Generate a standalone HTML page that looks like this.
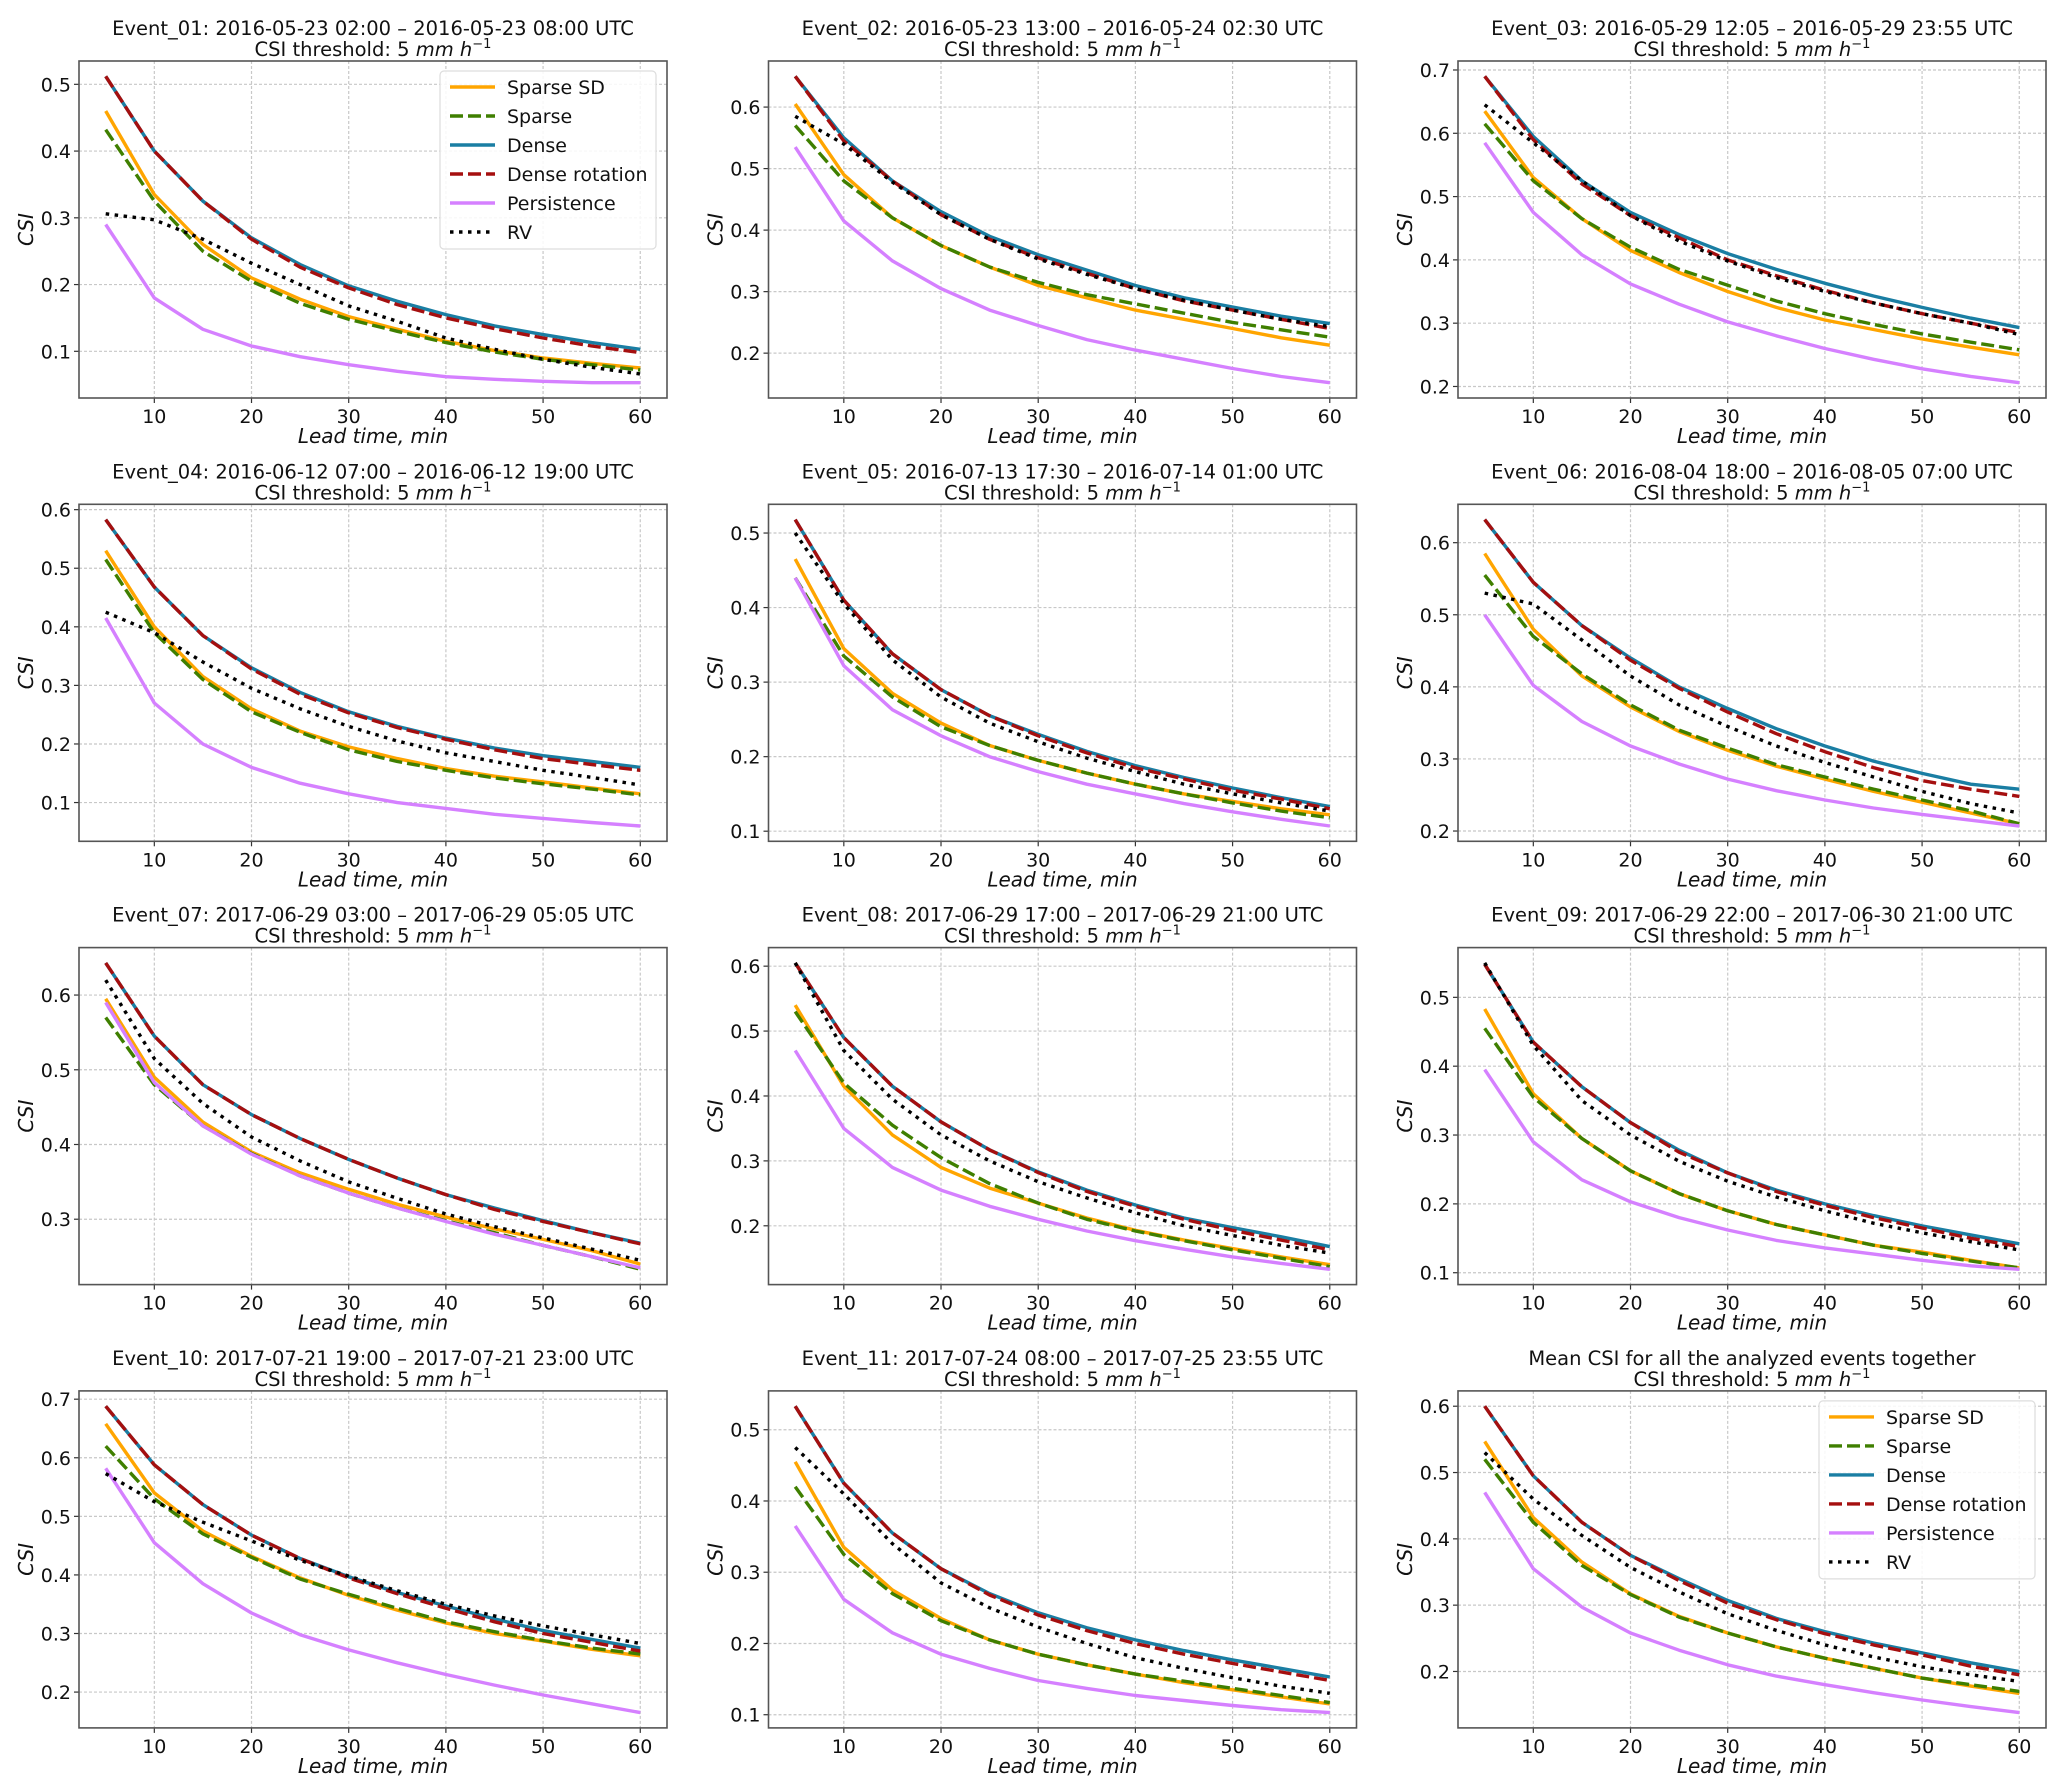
<!DOCTYPE html>
<html><head><meta charset="utf-8">
<style>
html,body{margin:0;padding:0;background:#fff;}
svg{display:block;font-family:"DejaVu Sans","Liberation Sans",sans-serif;}
</style></head>
<body>
<svg id="fig" width="2067" height="1792" viewBox="0 0 2067 1792" xmlns="http://www.w3.org/2000/svg"></svg>
<script>
const leadTimes = [5,10,15,20,25,30,35,40,45,50,55,60];
const seriesNames = ["Sparse SD","Sparse","Dense","Dense rotation","Persistence","RV"];
const panelTitles = [
"Event_01: 2016-05-23 02:00 – 2016-05-23 08:00 UTC",
"Event_02: 2016-05-23 13:00 – 2016-05-24 02:30 UTC",
"Event_03: 2016-05-29 12:05 – 2016-05-29 23:55 UTC",
"Event_04: 2016-06-12 07:00 – 2016-06-12 19:00 UTC",
"Event_05: 2016-07-13 17:30 – 2016-07-14 01:00 UTC",
"Event_06: 2016-08-04 18:00 – 2016-08-05 07:00 UTC",
"Event_07: 2017-06-29 03:00 – 2017-06-29 05:05 UTC",
"Event_08: 2017-06-29 17:00 – 2017-06-29 21:00 UTC",
"Event_09: 2017-06-29 22:00 – 2017-06-30 21:00 UTC",
"Event_10: 2017-07-21 19:00 – 2017-07-21 23:00 UTC",
"Event_11: 2017-07-24 08:00 – 2017-07-25 23:55 UTC",
"Mean CSI for all the analyzed events together"];
const xTicks = [10,20,30,40,50,60];

const sparseSD = [
[.46,.335,.26,.21,.178,.152,.133,.115,.101,.09,.082,.075],
[.605,.49,.42,.375,.34,.31,.29,.27,.255,.24,.225,.213],
[.635,.53,.465,.415,.38,.35,.325,.305,.29,.275,.262,.25],
[.53,.4,.315,.26,.222,.195,.175,.158,.145,.135,.125,.115],
[.465,.345,.285,.245,.215,.195,.178,.163,.15,.14,.13,.122],
[.585,.48,.415,.372,.338,.312,.29,.272,.255,.24,.225,.21],
[.595,.49,.43,.39,.362,.34,.32,.303,.287,.273,.258,.24],
[.54,.415,.34,.29,.258,.235,.212,.193,.178,.165,.152,.14],
[.483,.36,.295,.248,.215,.19,.17,.155,.14,.13,.118,.107],
[.658,.54,.475,.432,.395,.365,.34,.318,.3,.287,.273,.262],
[.455,.335,.275,.235,.205,.185,.17,.157,.145,.135,.125,.115],
[.547,.432,.365,.317,.283,.258,.237,.22,.205,.19,.178,.167]];
const sparse = [
[.432,.325,.25,.205,.172,.148,.13,.113,.099,.088,.08,.072],
[.57,.48,.42,.375,.34,.315,.295,.28,.265,.25,.238,.226],
[.615,.525,.465,.42,.385,.36,.335,.315,.298,.283,.27,.258],
[.515,.39,.31,.255,.22,.19,.17,.155,.142,.132,.123,.113],
[.44,.335,.28,.24,.215,.195,.178,.163,.15,.138,.127,.118],
[.555,.47,.418,.375,.34,.315,.292,.275,.258,.243,.228,.21],
[.57,.48,.425,.388,.358,.335,.315,.298,.282,.265,.25,.233],
[.53,.42,.355,.305,.265,.235,.21,.192,.177,.163,.15,.137],
[.455,.355,.295,.248,.215,.19,.17,.155,.14,.128,.117,.107],
[.62,.53,.47,.43,.393,.367,.343,.32,.303,.288,.275,.265],
[.42,.325,.27,.232,.205,.185,.17,.157,.147,.137,.127,.117],
[.52,.425,.36,.316,.282,.258,.237,.22,.205,.19,.18,.17]];
const dense = [
[.512,.40,.325,.27,.23,.198,.175,.155,.138,.125,.113,.103],
[.65,.55,.48,.43,.39,.36,.335,.31,.29,.275,.26,.248],
[.69,.595,.525,.475,.44,.41,.385,.363,.343,.325,.308,.293],
[.583,.468,.385,.33,.288,.255,.23,.21,.193,.18,.17,.16],
[.518,.41,.338,.29,.255,.23,.207,.188,.172,.158,.145,.133],
[.632,.545,.485,.44,.4,.37,.342,.318,.297,.28,.265,.258],
[.643,.545,.48,.44,.408,.38,.355,.333,.315,.298,.282,.268],
[.605,.49,.415,.36,.317,.283,.255,.232,.212,.197,.183,.168],
[.548,.435,.37,.318,.278,.245,.22,.2,.183,.168,.155,.142],
[.688,.588,.52,.468,.428,.397,.37,.347,.325,.305,.29,.275],
[.533,.425,.355,.305,.27,.243,.222,.205,.19,.177,.165,.153],
[.6,.495,.425,.375,.34,.307,.28,.26,.243,.228,.213,.2]];
const denseRot = [
[.512,.40,.325,.268,.226,.195,.17,.15,.134,.12,.108,.098],
[.65,.545,.48,.425,.385,.355,.33,.305,.285,.27,.255,.24],
[.69,.59,.52,.47,.435,.4,.375,.352,.332,.315,.3,.285],
[.583,.468,.385,.328,.285,.253,.228,.208,.19,.175,.165,.155],
[.518,.41,.338,.29,.255,.228,.205,.185,.17,.155,.143,.13],
[.632,.545,.485,.437,.398,.365,.335,.31,.288,.27,.258,.248],
[.643,.545,.48,.44,.408,.38,.355,.333,.313,.297,.282,.267],
[.605,.49,.415,.36,.317,.282,.253,.23,.21,.193,.178,.163],
[.548,.435,.37,.318,.275,.245,.218,.198,.18,.165,.15,.138],
[.688,.588,.52,.468,.428,.395,.368,.343,.32,.3,.285,.27],
[.533,.425,.355,.305,.268,.24,.218,.2,.185,.172,.16,.148],
[.6,.495,.425,.375,.337,.303,.278,.257,.24,.225,.208,.195]];
const persistence = [
[.29,.18,.133,.108,.092,.08,.07,.062,.058,.055,.053,.053],
[.535,.415,.35,.305,.27,.245,.222,.205,.19,.175,.162,.152],
[.585,.475,.408,.362,.33,.302,.28,.26,.243,.228,.216,.206],
[.415,.27,.2,.16,.133,.115,.1,.09,.08,.073,.066,.06],
[.44,.322,.263,.228,.2,.18,.163,.15,.137,.126,.116,.107],
[.5,.402,.352,.318,.293,.272,.256,.243,.232,.223,.215,.207],
[.59,.483,.425,.387,.358,.335,.315,.297,.28,.265,.25,.235],
[.47,.35,.29,.255,.23,.21,.192,.177,.164,.152,.142,.133],
[.395,.29,.235,.203,.18,.162,.147,.136,.127,.118,.11,.105],
[.582,.455,.385,.335,.298,.272,.25,.23,.212,.195,.18,.165],
[.365,.262,.215,.185,.165,.148,.137,.127,.12,.113,.107,.103],
[.47,.355,.297,.258,.232,.21,.193,.18,.168,.157,.147,.138]];
const rv = [
[.306,.297,.268,.232,.2,.168,.145,.12,.103,.088,.076,.066],
[.585,.54,.478,.425,.385,.353,.328,.305,.286,.27,.255,.243],
[.645,.585,.525,.47,.43,.398,.372,.35,.332,.315,.3,.282],
[.425,.39,.34,.295,.26,.23,.205,.185,.17,.155,.143,.13],
[.5,.405,.33,.28,.245,.22,.198,.18,.163,.15,.138,.127],
[.53,.515,.465,.415,.375,.345,.318,.295,.275,.255,.238,.225],
[.62,.515,.455,.41,.378,.35,.328,.307,.29,.275,.26,.245],
[.605,.47,.395,.34,.3,.268,.243,.22,.2,.185,.17,.158],
[.55,.43,.35,.3,.262,.233,.21,.19,.172,.158,.145,.133],
[.573,.525,.49,.458,.425,.398,.373,.35,.33,.313,.298,.283],
[.475,.41,.34,.285,.25,.223,.2,.18,.165,.152,.14,.13],
[.53,.46,.405,.357,.32,.287,.262,.24,.222,.207,.195,.185]];

const styles = [
 {c:"#FFA500", d:null},
 {c:"#3f7f00", d:"13,5"},
 {c:"#1a7ea3", d:null},
 {c:"#a50f0f", d:"13,5"},
 {c:"#d580ff", d:null},
 {c:"#000000", d:"3.5,5.5"}];
const NS="http://www.w3.org/2000/svg";
const fig=document.getElementById('fig');
function mk(tag,attrs,parent){const e=document.createElementNS(NS,tag);for(const k in attrs)e.setAttribute(k,attrs[k]);(parent||fig).appendChild(e);return e;}

const AW=588, AH=337;
for(let p=0;p<12;p++){
  const col=p%3,row=Math.floor(p/3);
  const L=79+col*689.5, T=61+row*443.3;
  const g=mk('g',{});
  
  
  const all=[sparseSD[p],sparse[p],dense[p],denseRot[p],persistence[p],rv[p]];
  let mn=Infinity,mx=-Infinity;
  all.forEach(s=>s.forEach(v=>{mn=Math.min(mn,v);mx=Math.max(mx,v);}));
  const pad=(mx-mn)*0.05, y0=mn-pad, y1=mx+pad;
  const xmin=2.25,xmax=62.75;
  const X=v=>L+(v-xmin)/(xmax-xmin)*AW;
  const Y=v=>T+AH-(v-y0)/(y1-y0)*AH;
  const yTicks=[];
  for(let t=Math.ceil(y0*10-1e-9);t<=Math.floor(y1*10+1e-9);t++)yTicks.push(t/10);
  xTicks.forEach(t=>{
    const ln=mk('line',{x1:X(t),x2:X(t),y1:T,y2:T+AH,stroke:"#c8c8c8","stroke-width":1.2,"stroke-dasharray":"3,2"},g);
    
    
    const tk=mk('line',{x1:X(t),x2:X(t),y1:T+AH,y2:T+AH+5,stroke:"#333","stroke-width":1.2},g);
    
    
    const tx=mk('text',{x:X(t),y:T+AH+25,"font-size":19,"text-anchor":"middle",fill:"#111"},g);
    tx.textContent=t;
    
    
  });
  yTicks.forEach(t=>{
    const ln=mk('line',{x1:L,x2:L+AW,y1:Y(t),y2:Y(t),stroke:"#c8c8c8","stroke-width":1.2,"stroke-dasharray":"3,2"},g);
    
    
    const tk=mk('line',{x1:L-5,x2:L,y1:Y(t),y2:Y(t),stroke:"#333","stroke-width":1.2},g);
    
    
    const tx=mk('text',{x:L-8,y:Y(t)+7,"font-size":19,"text-anchor":"end",fill:"#111"},g);
    tx.textContent=t.toFixed(1);
    
    
  });
  all.forEach((s,i)=>{
    const pts=s.map((v,j)=>X(leadTimes[j]).toFixed(1)+","+Y(v).toFixed(1)).join(" ");
    const a={points:pts,fill:"none",stroke:styles[i].c,"stroke-width":3.4,"stroke-linejoin":"round"};
    if(styles[i].d)a["stroke-dasharray"]=styles[i].d;
    const pl=mk('polyline',a,g);
    
    
  });
  const fr=mk('rect',{x:L,y:T,width:AW,height:AH,fill:"none",stroke:"#555","stroke-width":1.6},g);
  
  
  const cx=L+AW/2;
  const t1=mk('text',{x:cx,y:T-26,"font-size":19.5,"text-anchor":"middle",fill:"#111"},g);
  t1.textContent=panelTitles[p];
  
  
  const t2=mk('text',{x:cx,y:T-5,"font-size":19.5,"text-anchor":"middle",fill:"#111"},g);
  
  
  t2.innerHTML='CSI threshold: 5 <tspan font-style="italic">mm h</tspan><tspan font-size="13" dy="-8">−1</tspan>';
  const xl=mk('text',{x:cx,y:T+AH+45,"font-size":20,"font-style":"italic","text-anchor":"middle",fill:"#111"},g);
  xl.textContent="Lead time, min";
  
  
  const yl=mk('text',{x:0,y:0,"font-size":20,"font-style":"italic","text-anchor":"middle",fill:"#111",transform:`translate(${L-46},${T+AH/2}) rotate(-90)`},g);
  yl.textContent="CSI";
  
  
  if(p===0||p===11){
    const lg=mk('g',{},g);
    
    
    const bx=L+361, by=T+10;
    mk('rect',{x:bx,y:by,width:216,height:178,rx:4,fill:"#fff","fill-opacity":0.85,stroke:"#ddd","stroke-width":1.2},lg);
    seriesNames.forEach((n,i)=>{
      const yy=by+16+i*29;
      const a={x1:bx+10,x2:bx+55,y1:yy,y2:yy,stroke:styles[i].c,"stroke-width":3.4};
      if(styles[i].d)a["stroke-dasharray"]=styles[i].d;
      const ln=mk('line',a,lg);
      
      
      const tx=mk('text',{x:bx+67,y:yy+7,"font-size":19,fill:"#111"},lg);
      tx.textContent=n;
      
      
    });
  }
}
</script>
</body></html>
